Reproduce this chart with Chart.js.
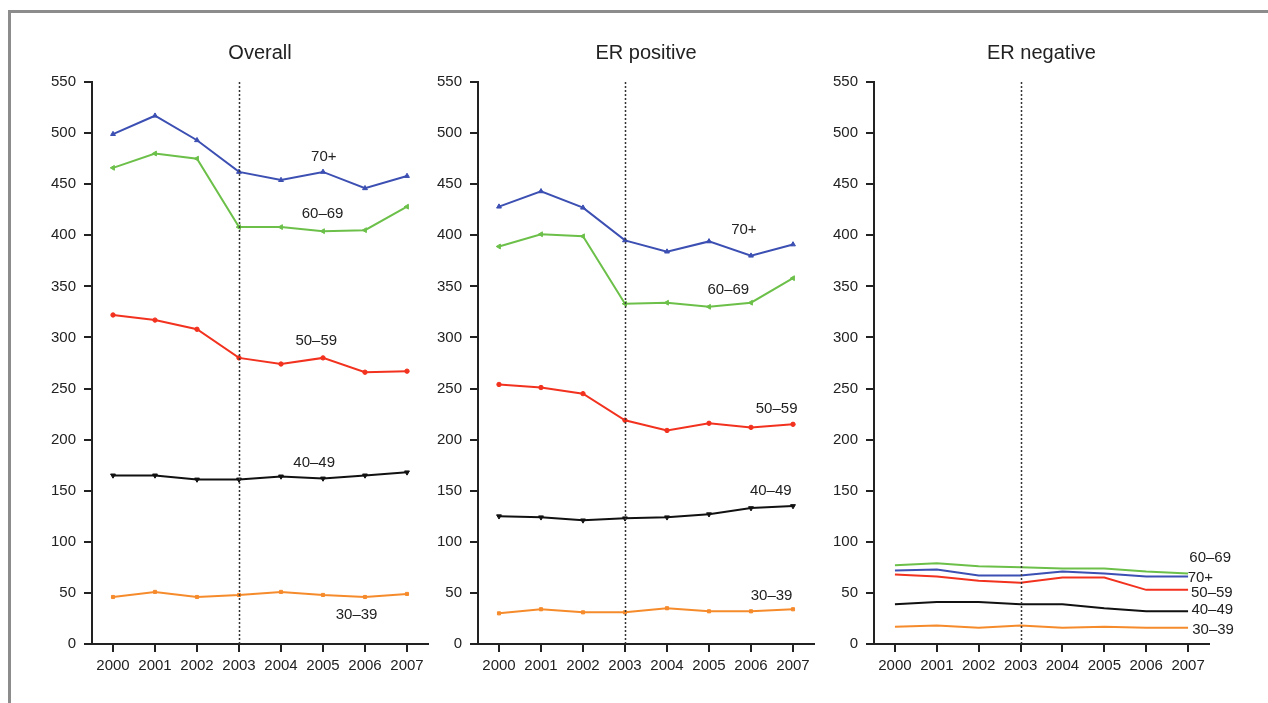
<!DOCTYPE html>
<html>
<head>
<meta charset="utf-8">
<title>Incidence by age group, 2000–2007</title>
<script src="https://cdn.jsdelivr.net/npm/chart.js@4.4.1/dist/chart.umd.min.js"></script>
<style>
  html, body { margin: 0; padding: 0; background: #fff; }
  body { width: 1268px; height: 703px; position: relative; overflow: hidden; }
  .frame { position: absolute; left: 8px; top: 10px; width: 1280px; height: 720px;
           border-top: 3px solid #8c8c8c; border-left: 3px solid #8c8c8c; }
  canvas { position: absolute; }
</style>
</head>
<body>
<div class="frame"></div>
<canvas id="overall" width="410" height="654" style="left:32px;top:30px"></canvas>
<canvas id="erpos" width="410" height="654" style="left:418px;top:30px"></canvas>
<canvas id="erneg" width="448" height="654" style="left:814px;top:30px"></canvas>

<script>
// Categories and tick labels
const years = ['2000', '2001', '2002', '2003', '2004', '2005', '2006', '2007'];
const yTickValues = [0, 50, 100, 150, 200, 250, 300, 350, 400, 450, 500, 550];
const ageGroups = ['70+', '60–69', '50–59', '40–49', '30–39'];
const screeningYearIndex = 3; // 2003

// Overall
const overall70plus = [499, 517, 493, 462, 454, 462, 446, 458];
const overall60to69 = [466, 480, 475, 408, 408, 404, 405, 428];
const overall50to59 = [322, 317, 308, 280, 274, 280, 266, 267];
const overall40to49 = [165, 165, 161, 161, 164, 162, 165, 168];
const overall30to39 = [46, 51, 46, 48, 51, 48, 46, 49];

// ER positive
const erPos70plus = [428, 443, 427, 395, 384, 394, 380, 391];
const erPos60to69 = [389, 401, 399, 333, 334, 330, 334, 358];
const erPos50to59 = [254, 251, 245, 219, 209, 216, 212, 215];
const erPos40to49 = [125, 124, 121, 123, 124, 127, 133, 135];
const erPos30to39 = [30, 34, 31, 31, 35, 32, 32, 34];

// ER negative
const erNeg70plus = [72, 73, 67, 67, 71, 69, 66, 66];
const erNeg60to69 = [77, 79, 76, 75, 74, 74, 71, 69];
const erNeg50to59 = [68, 66, 62, 60, 65, 65, 53, 53];
const erNeg40to49 = [39, 41, 41, 39, 39, 35, 32, 32];
const erNeg30to39 = [17, 18, 16, 18, 16, 17, 16, 16];

// Inline series labels: position along the x axis (category index) and value
const overallLabelX = [5.02, 4.99, 4.84, 4.79, 5.80];
const overallLabelY = [477, 421, 297, 177, 29];
const erPosLabelX = [5.83, 5.46, 6.61, 6.47, 6.49];
const erPosLabelY = [405, 347, 230, 150, 47];
const erNegLabelX = [6.99, 7.03, 7.07, 7.08, 7.10];
const erNegLabelY = [65, 84, 50, 33, 14];

const seriesColors = ['#3c4fb2', '#6cc04a', '#f2321f', '#111111', '#f68b2c'];
const markerStyles = ['triangle', 'triangle', 'circle', 'triangle', 'rect'];
const markerRotation = [0, 270, 0, 180, 0];

const FONT = '"Liberation Sans", Arial, Helvetica, sans-serif';
const INK = '#222';

const panelMarks = {
  id: 'panelMarks',
  afterDatasetsDraw(chart, args, opts) {
    const { ctx, chartArea, scales } = chart;
    const x = scales.x, y = scales.y;
    // dotted reference line at 2003
    const px = Math.round(x.getPixelForValue(screeningYearIndex)) + 0.5;
    ctx.save();
    ctx.strokeStyle = '#333';
    ctx.lineWidth = 1.5;
    ctx.setLineDash([2, 2]);
    ctx.beginPath();
    ctx.moveTo(px, chartArea.top);
    ctx.lineTo(px, chartArea.bottom);
    ctx.stroke();
    ctx.setLineDash([]);
    // inline series labels
    ctx.fillStyle = INK;
    ctx.font = '15px ' + FONT;
    ctx.textBaseline = 'middle';
    ctx.textAlign = opts.align || 'center';
    ageGroups.forEach((name, i) => {
      ctx.fillText(name, x.getPixelForValue(opts.labelX[i]), y.getPixelForValue(opts.labelY[i]));
    });
    ctx.restore();
  }
};

function makePanel(canvasId, title, series, labelX, labelY, align, showMarkers, padRight) {
  const datasets = series.map((values, i) => ({
    label: ageGroups[i],
    data: values,
    borderColor: seriesColors[i],
    backgroundColor: seriesColors[i],
    borderWidth: 2,
    tension: 0,
    pointStyle: markerStyles[i],
    rotation: markerRotation[i],
    pointRadius: showMarkers ? (markerStyles[i] === 'triangle' ? 2.8 : 2.2) : 0,
    pointBorderWidth: 1
  }));
  return new Chart(document.getElementById(canvasId), {
    type: 'line',
    data: { labels: years, datasets },
    plugins: [panelMarks],
    options: {
      responsive: false,
      animation: false,
      layout: { padding: { top: 11, right: padRight, left: 0, bottom: 0 } },
      plugins: {
        legend: { display: false },
        tooltip: { enabled: false },
        title: {
          display: true, text: title, fullSize: false, color: INK,
          font: { family: FONT, size: 20, weight: 'normal' },
          padding: { top: 0, bottom: 17 }
        },
        panelMarks: { labelX, labelY, align }
      },
      scales: {
        x: {
          type: 'category',
          offset: true,
          afterFit(s) { s.height = 40; },
          border: { display: true, color: INK, width: 2 },
          grid: { display: true, offset: false, drawOnChartArea: false, drawTicks: true,
                  tickLength: 8, color: INK, lineWidth: 2 },
          ticks: { color: INK, font: { family: FONT, size: 15 }, padding: 5, maxRotation: 0, autoSkip: false }
        },
        y: {
          min: 0, max: 550,
          afterFit(s) { s.width = 60; },
          afterBuildTicks(s) { s.ticks = yTickValues.map(v => ({ value: v })); },
          border: { display: true, color: INK, width: 2 },
          grid: { display: true, drawOnChartArea: false, drawTicks: true,
                  tickLength: 8, color: INK, lineWidth: 2 },
          ticks: { color: INK, font: { family: FONT, size: 15 }, padding: 8 }
        }
      }
    }
  });
}

makePanel('overall', 'Overall',
  [overall70plus, overall60to69, overall50to59, overall40to49, overall30to39],
  overallLabelX, overallLabelY, 'center', true, 14);
makePanel('erpos', 'ER positive',
  [erPos70plus, erPos60to69, erPos50to59, erPos40to49, erPos30to39],
  erPosLabelX, erPosLabelY, 'center', true, 14);
makePanel('erneg', 'ER negative',
  [erNeg70plus, erNeg60to69, erNeg50to59, erNeg40to49, erNeg30to39],
  erNegLabelX, erNegLabelY, 'left', false, 53);
</script>
</body>
</html>
